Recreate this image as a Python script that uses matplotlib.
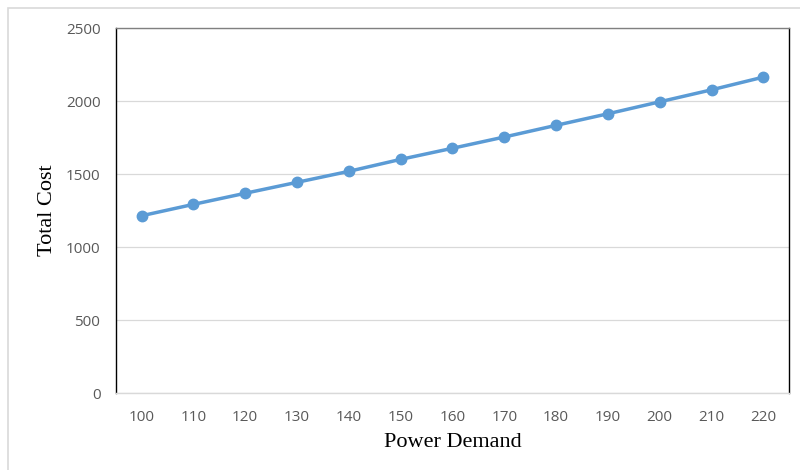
# Total Cost vs Power Demand
import matplotlib
matplotlib.use('Agg')
import matplotlib.pyplot as plt
from matplotlib.patches import Rectangle

# datos
demanda = [100, 110, 120, 130, 140, 150, 160, 170, 180, 190, 200, 210, 220]
costo = [1215, 1293, 1369, 1444, 1519, 1601, 1677, 1754, 1834, 1913, 1995, 2077, 2164]
yticks = [0, 500, 1000, 1500, 2000, 2500]

azul = '#5B9BD5'
gris_grid = '#d9d9d9'
gris_texto = '#595959'

fig = plt.figure(figsize=(8, 4.7), dpi=100)
ax = fig.add_axes([0.1446, 0.1632, 0.842, 0.7772])

# marco exterior del grafico
fig.patches.append(Rectangle((8 / 800, -0.05), 1.0, 1 - 8 / 470 + 0.05,
                             transform=fig.transFigure, fill=False,
                             edgecolor=gris_grid, linewidth=1.2))

x = list(range(len(demanda)))
ax.plot(x, costo, color=azul, linewidth=2.5, marker='o', markersize=7.5,
        solid_capstyle='round', zorder=3)

ax.set_xlim(-0.5, len(demanda) - 0.5)
ax.set_ylim(0, 2500)
ax.set_xticks(x)
ax.set_xticklabels([str(d) for d in demanda])
ax.set_yticks(yticks)
ax.yaxis.grid(True, color=gris_grid, linewidth=0.9)
ax.set_axisbelow(True)

ax.tick_params(axis='both', length=0, labelsize=11, labelcolor=gris_texto)
ax.tick_params(axis='y', pad=11)
ax.tick_params(axis='x', pad=12)
for lab in ax.get_xticklabels() + ax.get_yticklabels():
    lab.set_family('Open Sans')

ax.spines['left'].set_color('black')
ax.spines['right'].set_color('black')
ax.spines['top'].set_color('#808080')
ax.spines['bottom'].set_color(gris_grid)
for s in ax.spines.values():
    s.set_linewidth(1.0)

ax.set_xlabel('Power Demand', family='Liberation Serif', fontsize=16, labelpad=6)
ax.set_ylabel('Total Cost', family='Liberation Serif', fontsize=16, labelpad=6)

fig.savefig('out.png', dpi=100)
